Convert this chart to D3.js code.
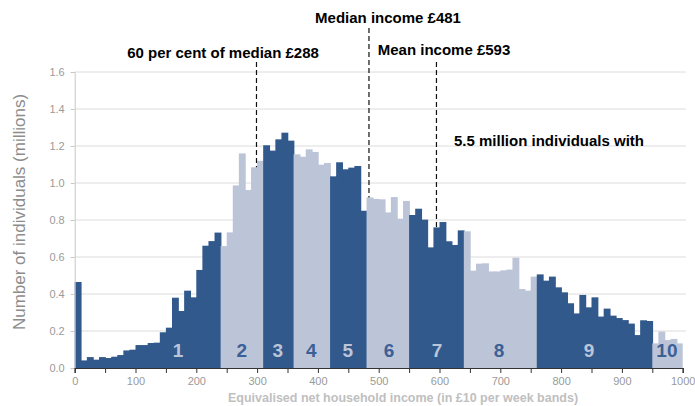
<!DOCTYPE html>
<html>
<head>
<meta charset="utf-8">
<script src="https://cdn.jsdelivr.net/npm/d3@7"></script>
<style>
  body { margin: 0; padding: 0; background: #fff; }
  text { font-family: "Liberation Sans", Arial, sans-serif; }
</style>
</head>
<body>
<script>
// number of individuals (millions) in each £10 per week band, 0-10, 10-20, ...
const counts = [
  0.465, 0.041, 0.059, 0.045, 0.059, 0.054, 0.061, 0.070, 0.095, 0.099,
  0.124, 0.124, 0.135, 0.137, 0.193, 0.218, 0.380, 0.308, 0.418, 0.382,
  0.530, 0.661, 0.686, 0.732, 0.659, 0.733, 0.987, 1.160, 0.962, 1.085,
  1.120, 1.204, 1.175, 1.236, 1.272, 1.229, 1.155, 1.142, 1.182, 1.168,
  1.099, 1.108, 1.036, 1.112, 1.074, 1.083, 1.092, 0.850, 0.922, 0.914,
  0.912, 0.841, 0.924, 0.807, 0.903, 0.827, 0.861, 0.802, 0.652, 0.760,
  0.789, 0.685, 0.665, 0.744, 0.739, 0.526, 0.564, 0.566, 0.522, 0.522,
  0.528, 0.532, 0.596, 0.427, 0.418, 0.494, 0.506, 0.472, 0.494, 0.436,
  0.409, 0.350, 0.295, 0.395, 0.328, 0.382, 0.278, 0.321, 0.283, 0.270,
  0.259, 0.240, 0.178, 0.258, 0.254, 0.133, 0.197, 0.151, 0.157, 0.133
];
const bandWidth = 10;

// upper edge of each decile, and where its number sits
const decileEnds = [240, 310, 360, 420, 480, 550, 640, 760, 950, 1000];
const decileLabels = ["1", "2", "3", "4", "5", "6", "7", "8", "9", "10"];
const decileLabelX = [170, 275, 334, 389, 449, 517, 596, 698, 846, 974];

// reference lines: drawn position and their captions
const markerX = [299, 484, 595];
const markerText = ["60 per cent of median £288", "Median income £481", "Mean income £593"];
const markerTextY = [58, 23, 55];
const markerTopY = [62, 28, 62];
const markerTextX = [223, 388, 444];

const noteText = "5.5 million individuals with";

const yTicks = [0, 0.2, 0.4, 0.6, 0.8, 1.0, 1.2, 1.4, 1.6];
const xLabelTicks = [0, 100, 200, 300, 400, 500, 600, 700, 800, 900, 1000];

const dark = "#31598c";
const light = "#bcc5d8";

const width = 695, height = 406;

const svg = d3.select("body").append("svg")
  .attr("width", width)
  .attr("height", height);

const x = d3.scaleLinear().domain([0, 1000]).range([74.7, 682.7]);
const y = d3.scaleLinear().domain([0, 1.6]).range([368, 72]);

const decileOf = v => decileEnds.findIndex(e => v < e);

// gridlines
svg.append("g")
  .selectAll("line")
  .data(yTicks.slice(1))
  .join("line")
  .attr("x1", x(0))
  .attr("x2", 686)
  .attr("y1", d => y(d))
  .attr("y2", d => y(d))
  .attr("stroke", "#dcdcdc")
  .attr("stroke-width", 1);

// bars
const bars = counts.map((c, i) => ({ start: i * bandWidth, value: c }));
svg.append("g")
  .selectAll("rect")
  .data(bars)
  .join("rect")
  .attr("x", d => x(d.start))
  .attr("width", (d, i) => x(d.start + bandWidth) - x(d.start) + (i < counts.length - 1 ? 0.8 : 0))
  .attr("y", d => y(d.value))
  .attr("height", d => y(0) - y(d.value))
  .attr("fill", d => decileOf(d.start) % 2 === 0 ? dark : light);

// decile numbers
svg.append("g")
  .selectAll("text")
  .data(decileLabels)
  .join("text")
  .attr("x", (d, i) => x(decileLabelX[i]))
  .attr("y", 357)
  .attr("text-anchor", "middle")
  .attr("font-size", 19)
  .attr("font-weight", "bold")
  .attr("fill", (d, i) => i % 2 === 0 ? light : "#3b6096")
  .text(d => d);

// y axis
const yAxis = svg.append("g")
  .attr("transform", `translate(${x(0)},0)`)
  .call(d3.axisLeft(y).tickValues(yTicks).tickFormat(d3.format(".1f")).tickSize(4).tickPadding(6));
yAxis.select(".domain").attr("stroke", "#c8c8c8");
yAxis.selectAll(".tick line").attr("stroke", "#c8c8c8");
yAxis.selectAll(".tick text").attr("fill", "#9a9a9a").attr("font-size", 11)
  .style("font-family", "Liberation Sans, Arial, sans-serif");

// x axis
const xAxis = svg.append("g")
  .attr("transform", `translate(0,${y(0)})`)
  .call(d3.axisBottom(x).ticks(20).tickSize(5).tickPadding(4)
    .tickFormat(d => xLabelTicks.includes(d) ? d : ""));
xAxis.select(".domain").attr("stroke", "#333").attr("stroke-width", 1.2);
xAxis.selectAll(".tick line").attr("stroke", "#333");
xAxis.selectAll(".tick text").attr("fill", "#9a9a9a").attr("font-size", 11)
  .style("font-family", "Liberation Sans, Arial, sans-serif");

// axis titles
svg.append("text")
  .attr("transform", "translate(25,212) rotate(-90)")
  .attr("text-anchor", "middle")
  .attr("font-size", 17)
  .attr("fill", "#8c8c8c")
  .text("Number of individuals (millions)");

svg.append("text")
  .attr("x", 403)
  .attr("y", 402)
  .attr("text-anchor", "middle")
  .attr("font-size", 12.5)
  .attr("font-weight", "bold")
  .attr("fill", "#c0c0c0")
  .text("Equivalised net household income (in £10 per week bands)");

// dashed reference lines, down to the top of the bar they cross
const barTopAt = v => counts[Math.floor(v / bandWidth)];
svg.append("g")
  .selectAll("line")
  .data(markerX)
  .join("line")
  .attr("x1", d => x(d))
  .attr("x2", d => x(d))
  .attr("y1", (d, i) => markerTopY[i])
  .attr("y2", d => y(barTopAt(d)))
  .attr("stroke", "#111")
  .attr("stroke-width", 1.2)
  .attr("stroke-dasharray", "5,3");

svg.append("g")
  .selectAll("text")
  .data(markerText)
  .join("text")
  .attr("x", (d, i) => markerTextX[i])
  .attr("y", (d, i) => markerTextY[i])
  .attr("text-anchor", "middle")
  .attr("font-size", 15)
  .attr("font-weight", "bold")
  .attr("fill", "#000")
  .text(d => d);

svg.append("text")
  .attr("x", 454)
  .attr("y", 146)
  .attr("font-size", 15)
  .attr("font-weight", "bold")
  .attr("fill", "#000")
  .text(noteText);
</script>
</body>
</html>
